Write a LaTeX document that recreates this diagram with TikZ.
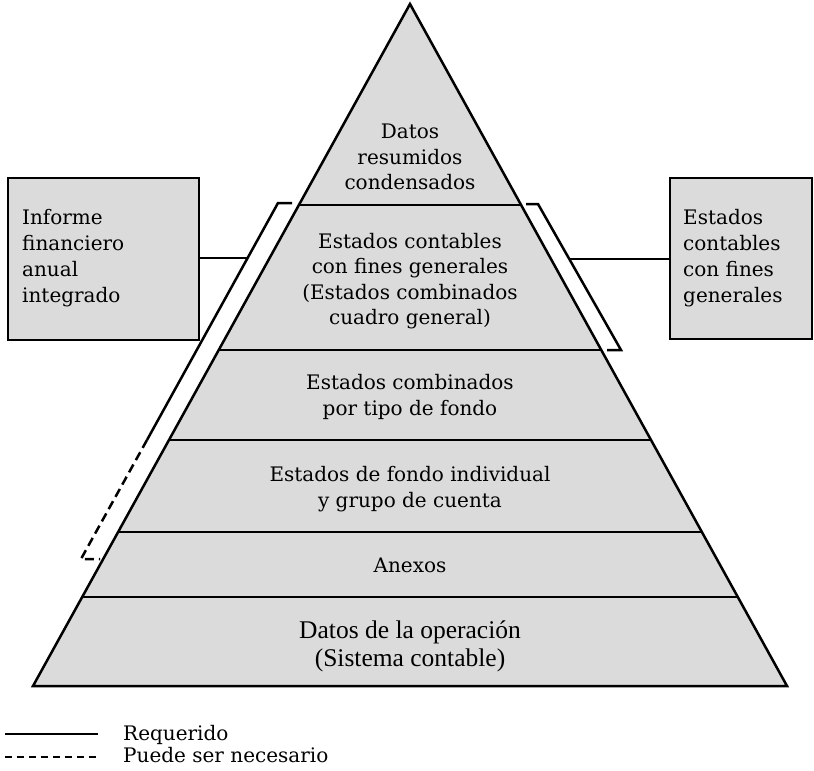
\documentclass[tikz,border=0pt]{standalone}
\usepackage{fontspec}
\setmainfont{DejaVu Serif}
\newfontfamily\condfont{Liberation Serif}
\begin{document}
\begin{tikzpicture}[x=1pt,y=-1pt,
  ln/.style={line width=2.5pt,line join=miter},
  shade/.style={fill=black!14},
  lbl/.style={align=center,inner sep=0pt,font=\fontsize{20}{25.5}\selectfont},
  boxlbl/.style={align=left,inner sep=0pt,anchor=west,font=\fontsize{20}{26}\selectfont},
  condlbl/.style={align=center,inner sep=0pt,font=\condfont\fontsize{25.5}{28}\selectfont},
  leglbl/.style={anchor=base west,inner sep=0pt,font=\fontsize{20}{22}\selectfont},
  dsh/.style={dash pattern=on 9pt off 5pt}]
\useasboundingbox (0,0) rectangle (814,771);
% pyramid corners
\coordinate (A) at (410,4);
\coordinate (BL) at (33,686);
\coordinate (BR) at (787,686);
\fill[shade] (A) -- (BL) -- (BR) -- cycle;
% division lines
\coordinate (l1) at (298.9,205); \coordinate (r1) at (521.1,205);
\coordinate (l2) at (218.7,350); \coordinate (r2) at (601.3,350);
\coordinate (l3) at (169.0,440); \coordinate (r3) at (651.0,440);
\coordinate (l4) at (118.1,532); \coordinate (r4) at (701.9,532);
\coordinate (l5) at (82.2,597);  \coordinate (r5) at (737.8,597);
\draw[ln] (l1) -- (r1);
\draw[ln] (l2) -- (r2);
\draw[ln] (l3) -- (r3);
\draw[ln] (l4) -- (r4);
\draw[ln] (l5) -- (r5);
\draw[ln] (A) -- (BL) -- (BR) -- cycle;
% texts in pyramid
\node[lbl] (t1) at (410,157) {Datos\\resumidos\\condensados};
\node[lbl] (t2) at (410,281) {Estados contables\\con fines generales\\(Estados combinados\\cuadro general)};
\node[lbl] (t3) at (410,397) {Estados combinados\\por tipo de fondo};
\node[lbl] (t4) at (410,489) {Estados de fondo individual\\y grupo de cuenta};
\node[lbl] (t5) at (410,565) {Anexos};
\node[condlbl] (t6) at (410,646) {Datos de la operación\\(Sistema contable)};
% side boxes
\node[draw,ln,shade,minimum width=191pt,minimum height=162pt,inner sep=0pt] (lb) at (103.5,259) {};
\node[boxlbl] (lbt) at (22,258) {Informe\\financiero\\anual\\integrado};
\node[draw,ln,shade,minimum width=142pt,minimum height=161pt,inner sep=0pt] (rb) at (741,258.5) {};
\node[boxlbl] (rbt) at (683,258) {Estados\\contables\\con fines\\generales};
% left bracket
\coordinate (lbk0) at (292,203);
\coordinate (lbk1) at (278,203);
\coordinate (lbk2) at (147,440);
\coordinate (lbk3) at (81,559);
\coordinate (lbk4) at (100,559);
\coordinate (lbkc) at (247.6,258);
\draw[ln] (lbk0) -- (lbk1) -- (lbk2);
\draw[ln,dsh] (lbk2) -- (lbk3) -- (lbk4);
% right bracket
\coordinate (rbk0) at (526,204);
\coordinate (rbk1) at (538,204);
\coordinate (rbk2) at (621,350);
\coordinate (rbk3) at (607,350);
\coordinate (rbkc) at (569.3,259);
\draw[ln] (rbk0) -- (rbk1) -- (rbk2) -- (rbk3);
% connectors
\draw[ln] (lb.east |- lbkc) -- (lbkc);
\draw[ln] (rbkc) -- (rb.west |- rbkc);
% legend
\coordinate (s0) at (5,734); \coordinate (s1) at (98,734);
\coordinate (d0) at (5,757); \coordinate (d1) at (98,757);
\draw[ln] (s0) -- (s1);
\draw[ln,dash pattern=on 7pt off 5pt] (d0) -- (d1);
\node[leglbl] (lg1) at (123,740) {Requerido};
\node[leglbl] (lg2) at (123,762) {Puede ser necesario};
\end{tikzpicture}
\end{document}
